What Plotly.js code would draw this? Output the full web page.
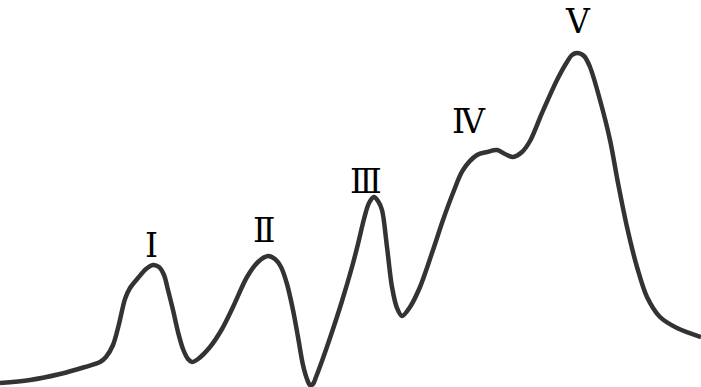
<!DOCTYPE html>
<html>
<head>
<meta charset="utf-8">
<script src="https://cdn.plot.ly/plotly-3.0.1.min.js"></script>
<style>
  html, body { margin: 0; padding: 0; background: #fff; }
  #plot { width: 701px; height: 387px; }
</style>
</head>
<body>
<div id="plot"></div>
<script>
// Waveform (time in px-like units, amplitude upward)
var time = [0, 30, 60, 85, 100, 106, 113, 119, 125, 130, 138, 146, 153, 159, 164, 168, 173, 178, 183, 188,
  192, 198, 210, 222, 233, 247, 258, 268, 275, 281, 287, 293, 298, 303, 307, 310, 313, 316, 322, 332, 342,
  352, 358, 364, 369, 374, 378, 382, 387, 392, 397, 402, 410, 420, 433, 443, 453, 463, 477, 487,
  497, 505, 513, 522, 530, 542, 557, 567, 572, 577, 584, 590, 600, 610, 618, 627, 637, 647, 660, 677, 701];
var amplitude = [4, 7, 13, 20, 25, 30, 42, 63, 88, 99, 109, 118, 122, 120, 112, 97, 77, 55, 38, 28,
  25, 28, 40, 58, 80, 110, 125, 131, 128, 120, 103, 77, 50, 22, 8, 2, 3, 10, 26, 55, 86,
  120, 143, 168, 184, 190, 186, 177, 140, 100, 79, 71, 80, 100, 137, 167, 194, 217, 232, 235,
  237, 233, 230, 235, 246, 274, 307, 325, 332, 334, 331, 320, 287, 247, 204, 160, 120, 90, 70, 59, 50];

var peaks = ["Ⅰ", "Ⅱ", "Ⅲ", "Ⅳ", "Ⅴ"];
var peakTime = [151, 264, 366, 469, 578];
var labelAmp = [142, 157, 206, 266, 366];

var trace = {
  x: time,
  y: amplitude,
  mode: "lines",
  line: { color: "#333333", width: 4.5, shape: "spline", smoothing: 0.9 },
  hoverinfo: "skip"
};

var annotations = peaks.map(function (p, i) {
  return {
    x: peakTime[i], y: labelAmp[i], text: p, showarrow: false,
    font: { family: "DejaVu Serif, serif", size: 33, color: "#000" }
  };
});

var layout = {
  width: 701, height: 387,
  margin: { l: 0, r: 0, t: 0, b: 0 },
  paper_bgcolor: "#fff", plot_bgcolor: "#fff",
  showlegend: false,
  xaxis: { range: [0, 701], visible: false, fixedrange: true },
  yaxis: { range: [0, 387], visible: false, fixedrange: true },
  annotations: annotations
};

Plotly.newPlot("plot", [trace], layout, { displayModeBar: false, staticPlot: true });
</script>
</body>
</html>
